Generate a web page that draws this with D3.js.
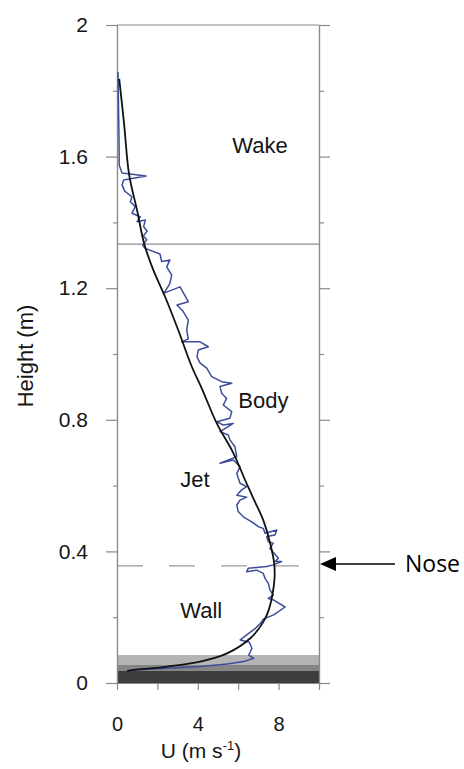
<!DOCTYPE html>
<html>
<head>
<meta charset="utf-8">
<script src="https://cdn.jsdelivr.net/npm/d3@7"></script>
<style>
  html, body { margin: 0; padding: 0; background: #fff; }
  svg { display: block; }
</style>
</head>
<body>
<svg id="chart" width="464" height="769"></svg>
<script>
// Measured velocity profile (blue trace): height (m) and U (m/s)
const measuredU = [0.05, 0.07, 0.10, 0.11, 0.25, 1.44, 0.33, 0.25, 0.38, 0.74, 0.66, 0.91, 0.74, 1.15, 0.99, 1.40, 1.32, 1.49, 1.31, 1.47,
  1.27, 1.39, 2.13, 2.21, 2.62, 2.46, 2.71, 2.62, 2.33, 3.12, 3.53, 2.97, 3.28, 3.53, 3.45, 3.53, 3.20, 4.11, 4.52, 4.02,
  3.96, 4.11, 4.44, 4.69, 5.18, 5.68, 5.10, 5.18, 5.43, 5.26, 5.68, 5.59, 4.94, 5.26, 5.76, 5.10, 5.51, 5.59, 5.84, 5.93,
  5.10, 5.76, 6.09, 5.93, 6.09, 6.42, 6.17, 5.93, 6.42, 6.09, 5.93, 6.00, 6.25, 6.67, 7.00, 7.24, 7.33, 7.91, 7.82, 7.41,
  7.49, 7.74, 7.57, 7.99, 7.82, 8.15, 7.74, 7.41, 6.50, 6.42, 6.92, 7.24, 7.33, 7.49, 7.57, 7.74, 7.49, 7.76, 8.32, 7.76,
  7.26, 7.09, 6.85, 6.52, 6.10, 6.55, 6.68, 6.52, 6.77, 6.27, 5.45, 4.12, 2.48, 0.99, 0.50];
const measuredH = [1.857, 1.772, 1.650, 1.574, 1.550, 1.541, 1.529, 1.514, 1.495, 1.478, 1.463, 1.448, 1.428, 1.417, 1.402, 1.407, 1.387, 1.374, 1.359, 1.347,
  1.331, 1.321, 1.304, 1.281, 1.286, 1.265, 1.240, 1.215, 1.185, 1.204, 1.159, 1.149, 1.129, 1.103, 1.073, 1.046, 1.037, 1.037, 1.022, 1.012,
  0.991, 0.973, 0.957, 0.931, 0.916, 0.911, 0.901, 0.881, 0.865, 0.845, 0.825, 0.805, 0.794, 0.784, 0.789, 0.764, 0.754, 0.739, 0.718, 0.688,
  0.668, 0.678, 0.657, 0.637, 0.607, 0.597, 0.587, 0.571, 0.565, 0.556, 0.541, 0.521, 0.505, 0.490, 0.475, 0.470, 0.455, 0.465, 0.450, 0.445,
  0.429, 0.425, 0.409, 0.379, 0.369, 0.369, 0.359, 0.354, 0.349, 0.338, 0.343, 0.333, 0.318, 0.303, 0.283, 0.267, 0.257, 0.252, 0.231, 0.207,
  0.195, 0.181, 0.166, 0.151, 0.131, 0.124, 0.105, 0.085, 0.075, 0.065, 0.058, 0.050, 0.045, 0.040, 0.036];

// Fitted wall-jet profile (black curve)
const fitU = [0.11, 0.35, 0.60, 0.99, 1.35, 1.80, 2.38, 3.03, 3.70, 4.20, 4.94, 5.76, 6.34, 6.75, 7.24, 7.60, 7.78, 7.80, 7.70, 7.50, 7.24, 6.60, 5.45, 4.12, 2.48, 0.83, 0.50];
const fitH = [1.836, 1.70, 1.545, 1.438, 1.334, 1.255, 1.174, 1.073, 0.962, 0.895, 0.789, 0.699, 0.617, 0.561, 0.495, 0.42, 0.364, 0.32, 0.27, 0.22, 0.185, 0.136, 0.090, 0.065, 0.050, 0.040, 0.037];

// Layer boundaries (m)
const wakeBoundary = 1.334;
const noseHeight = 0.356;
// Ground bands: [bottom, top] heights
const bandBottoms = [0.055, 0.037, 0];
const bandTops = [0.085, 0.055, 0.037];

// Axis ticks
const yMajorTicks = [0, 0.4, 0.8, 1.2, 1.6, 2];
const yMinorTicks = [0.2, 0.6, 1.0, 1.4, 1.8];
const xTicks = [0, 2, 4, 6, 8, 10];
const xLabelTicks = [0, 4, 8];

const regionNames = ["Wake", "Body", "Jet", "Wall"];

const svg = d3.select("#chart");
const x = d3.scaleLinear().domain([0, 10]).range([117, 319]);
const y = d3.scaleLinear().domain([0, 2]).range([683, 25]);
const axisColor = "#8a8a8a";
const textColor = "#151515";
const font = "'Liberation Sans', Arial, sans-serif";

// Ground bands
const bandColors = ["#b4b4b4", "#858585", "#3d3d3d"];
svg.append("g").selectAll("rect").data(bandBottoms).join("rect")
  .attr("x", x(0))
  .attr("width", x(10) - x(0))
  .attr("y", (d, i) => y(bandTops[i]))
  .attr("height", (d, i) => y(d) - y(bandTops[i]))
  .attr("fill", (d, i) => bandColors[i]);

// Wake / body boundary
svg.append("line")
  .attr("x1", x(0)).attr("x2", x(10))
  .attr("y1", y(wakeBoundary)).attr("y2", y(wakeBoundary))
  .attr("stroke", "#8c8c8c").attr("stroke-width", 1.4);

// Jet nose (dashed)
svg.append("line")
  .attr("x1", x(0)).attr("x2", x(10))
  .attr("y1", y(noseHeight)).attr("y2", y(noseHeight))
  .attr("stroke", "#9a9a9a").attr("stroke-width", 1.3)
  .attr("stroke-dasharray", "26,26");

// Top frame line
svg.append("line")
  .attr("x1", x(0)).attr("x2", x(10))
  .attr("y1", y(2)).attr("y2", y(2))
  .attr("stroke", axisColor).attr("stroke-width", 1.2);

function styleAxis(g) {
  g.selectAll(".domain").attr("stroke", axisColor).attr("stroke-width", 1.2);
  g.selectAll(".tick line").attr("stroke", axisColor).attr("stroke-width", 1.2);
  g.selectAll("text").attr("fill", textColor).attr("font-family", font);
}

// Left axis
svg.append("g").attr("transform", `translate(${x(0)},0)`)
  .call(d3.axisLeft(y).tickValues(yMajorTicks).tickSize(11).tickSizeOuter(0).tickPadding(18)
    .tickFormat(d => d3.format("")(+d.toFixed(1))))
  .call(styleAxis)
  .call(g => g.selectAll("text").attr("font-size", 21));
svg.append("g").attr("transform", `translate(${x(0)},0)`)
  .call(d3.axisLeft(y).tickValues(yMinorTicks).tickSize(4).tickSizeOuter(0).tickFormat(""))
  .call(styleAxis);

// Right axis
svg.append("g").attr("transform", `translate(${x(10)},0)`)
  .call(d3.axisRight(y).tickValues(yMajorTicks).tickSize(11).tickSizeOuter(0).tickFormat(""))
  .call(styleAxis);
svg.append("g").attr("transform", `translate(${x(10)},0)`)
  .call(d3.axisRight(y).tickValues(yMinorTicks).tickSize(5).tickSizeOuter(0).tickFormat(""))
  .call(styleAxis);

// Bottom axis
svg.append("g").attr("transform", `translate(0,${y(0)})`)
  .call(d3.axisBottom(x).tickValues(xTicks).tickSize(7).tickSizeOuter(0).tickPadding(27)
    .tickFormat(d => xLabelTicks.includes(d) ? d : ""))
  .call(styleAxis)
  .call(g => g.selectAll("text").attr("font-size", 20));

// Profiles
const line = d3.line().x(d => x(d[0])).y(d => y(d[1]));
svg.append("path")
  .datum(measuredU.map((u, i) => [u, measuredH[i]]))
  .attr("d", line)
  .attr("fill", "none").attr("stroke", "#3d4d9a").attr("stroke-width", 1.5)
  .attr("stroke-linejoin", "round");
svg.append("path")
  .datum(fitU.map((u, i) => [u, fitH[i]]))
  .attr("d", line.curve(d3.curveCatmullRom))
  .attr("fill", "none").attr("stroke", "#111").attr("stroke-width", 1.8);

// Region labels
const regionPos = [[7.08, 1.635], [7.25, 0.86], [3.86, 0.62], [4.17, 0.222]];
svg.append("g").selectAll("text").data(regionNames).join("text")
  .attr("x", (d, i) => x(regionPos[i][0]))
  .attr("y", (d, i) => y(regionPos[i][1]))
  .attr("dy", "0.36em")
  .attr("text-anchor", "middle")
  .attr("font-family", font).attr("font-size", 22).attr("fill", textColor)
  .text(d => d);

// Axis titles
svg.append("text")
  .attr("transform", `translate(33,${y(1) + 2}) rotate(-90)`)
  .attr("text-anchor", "middle")
  .attr("font-family", font).attr("font-size", 22).attr("fill", textColor)
  .text("Height (m)");
const xt = svg.append("text")
  .attr("x", 201).attr("y", 758)
  .attr("text-anchor", "middle")
  .attr("font-family", font).attr("font-size", 21).attr("fill", textColor);
xt.append("tspan").text("U (m s");
xt.append("tspan").attr("font-size", 13).attr("dy", -8).text("-1");
xt.append("tspan").attr("dy", 8).text(")");

// Nose annotation
const ny = y(noseHeight) - 2;
svg.append("line")
  .attr("x1", x(10) + 14).attr("x2", 395)
  .attr("y1", ny).attr("y2", ny)
  .attr("stroke", "#000").attr("stroke-width", 1.5);
svg.append("path")
  .attr("d", d3.line()([[x(10) + 1, ny], [x(10) + 17, ny - 7], [x(10) + 17, ny + 7]]) + "Z")
  .attr("fill", "#000");
svg.append("text")
  .attr("x", 405).attr("y", ny).attr("dy", "0.36em")
  .attr("font-family", "'Open Sans', 'Noto Sans', sans-serif").attr("font-size", 23).attr("fill", "#000")
  .text("Nose");
</script>
</body>
</html>
